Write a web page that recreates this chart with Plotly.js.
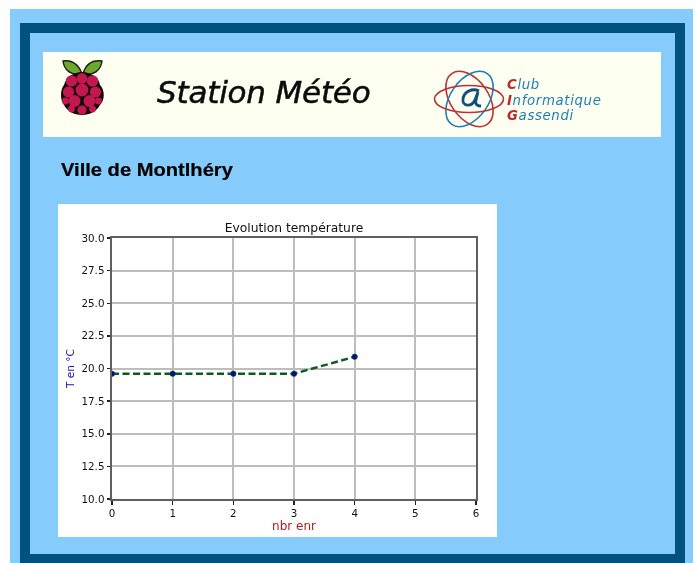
<!DOCTYPE html>
<html><head><meta charset="utf-8">
<script src="https://cdn.plot.ly/plotly-3.0.1.min.js"></script>
<style>
html,body{margin:0;padding:0;background:#fff;width:697px;height:563px;overflow:hidden}
#page{position:absolute;left:0;top:0;width:697px;height:563px;filter:blur(.5px)}
.a{position:absolute;box-sizing:border-box}
#bg{left:10px;top:9px;width:683px;height:554px;background:#85ccfc}
#frame{left:20px;top:23px;width:665px;height:541px;border:10px solid #01527f}
#banner{left:43px;top:52px;width:618px;height:85px;background:#fdfff0}
#st{left:157px;top:74px;font:italic 400 31px "DejaVu Sans",sans-serif;letter-spacing:-.2px;color:#0b0b0b;white-space:nowrap;-webkit-text-stroke:.5px #0b0b0b}
#ville{left:61px;top:160px;font:bold 17.5px "Liberation Sans",Arial,sans-serif;color:#000;white-space:nowrap;-webkit-text-stroke:.2px #000;transform:scaleX(1.15);transform-origin:left center}
.club{left:507px;height:15px;font:italic 13.3px/15px "DejaVu Sans",sans-serif;letter-spacing:.65px;color:#1f7fb5;white-space:nowrap}
.club b{color:#c0282c;font-weight:700}
#chart{left:58px;top:204px;width:439px;height:333px;background:#fff}
</style></head><body><div id="page">
<div class="a" id="bg"></div><div class="a" id="frame"></div><div class="a" id="banner"></div>
<svg class="a" style="left:55px;top:55px" width="56" height="66" viewBox="55 55 56 66">
 <path d="M82 74C78 63 71 60 63 61C64 70 71 76 82 74Z" fill="#6ea92f" stroke="#1c1c10" stroke-width="1.4"/>
 <path d="M83 74C86 63 94 60 102 61C101 70 94 76 83 74Z" fill="#6ea92f" stroke="#1c1c10" stroke-width="1.4"/>
 <path d="M82 72C90 72 99 77 100 85C105 90 105 100 100 105C97 111 90 115 82 115C74 115 67 111 64 105C60 100 60 90 64 85C66 77 74 72 82 72Z" fill="#14060a"/>
 <g fill="#c2174f">
  <circle cx="82" cy="78.5" r="5.4"/><circle cx="71.5" cy="81" r="5.8"/><circle cx="92.5" cy="81" r="5.8"/>
  <circle cx="82" cy="90" r="6.4"/><circle cx="68.5" cy="92" r="5.6"/><circle cx="95.5" cy="92" r="5.6"/>
  <circle cx="74.5" cy="101" r="6"/><circle cx="89.5" cy="101" r="6"/><circle cx="65.5" cy="101" r="3.4"/><circle cx="98.5" cy="101" r="3.4"/>
  <circle cx="82" cy="110" r="4.6"/><circle cx="71.5" cy="109" r="3.4"/><circle cx="92.5" cy="109" r="3.4"/>
 </g>
</svg>
<div class="a" id="st">Station Météo</div>
<svg class="a" style="left:430px;top:68px" width="78" height="62" viewBox="430 68 78 62">
 <g fill="none" stroke-width="1.6">
  <ellipse cx="469.5" cy="99" rx="31" ry="19" stroke="#bd2f35" transform="rotate(55 469.5 99)"/>
  <ellipse cx="469.5" cy="99" rx="31" ry="19" stroke="#1f7db8" transform="rotate(-55 469.5 99)"/>
  <ellipse cx="469" cy="99" rx="34.5" ry="13.5" stroke="#bd2f35"/>
  <path d="M479 91C473 88 464 91 463 99C462 106 471 108 475 100L478 92C476 100 473 106 481 106" stroke="#0f4f7d" stroke-width="2.8"/>
 </g>
</svg>
<div class="a club" style="top:77px"><b>C</b>lub</div>
<div class="a club" style="top:92.6px"><b>I</b>nformatique</div>
<div class="a club" style="top:108.2px"><b>G</b>assendi</div>
<div class="a" id="ville">Ville de Montlhéry</div>
<div class="a" id="chart"></div>
</div>
<script>
const xValues = [0, 1, 2, 3, 4];
const temperatures = [19.6, 19.6, 19.6, 19.6, 20.9];
const xTicks = [0, 1, 2, 3, 4, 5, 6];
const yTicks = [10, 12.5, 15, 17.5, 20, 22.5, 25, 27.5, 30];
const yTickLabels = ["10.0","12.5","15.0","17.5","20.0","22.5","25.0","27.5","30.0"];
const titleText = "Evolution température";
const xLabel = "nbr enr";
const yLabel = "T en °C";
const font = "DejaVu Sans, sans-serif";
const axisCommon = {
  showgrid: true, gridcolor: "#bdbdbd", gridwidth: 2, zeroline: false,
  showline: true, linecolor: "#5f5f5f", linewidth: 2, mirror: true,
  ticks: "outside", ticklen: 3.5, tickwidth: 1.5, tickcolor: "#222",
  tickfont: {family: font, size: 10.3, color: "#111"}
};
Plotly.newPlot("chart", [{
  x: xValues, y: temperatures, mode: "lines+markers", type: "scatter",
  line: {color: "#0b5a1f", width: 2.4, dash: "7px,3.5px"},
  marker: {color: "#00108a", size: 5.5, line: {color: "#0b5a1f", width: .6}}
}], {
  width: 439, height: 333, showlegend: false,
  paper_bgcolor: "#fff", plot_bgcolor: "#fff",
  margin: {l: 53.5, r: 21, t: 34, b: 38},
  title: {text: titleText, x: 236/439, xanchor: "center", y: 1-24/333, yanchor: "middle", font: {family: font, size: 12.3, color: "#111"}},
  xaxis: Object.assign({}, axisCommon, {range: [0, 6], tickmode: "array", tickvals: xTicks,
    title: {text: xLabel, standoff: 1, font: {family: font, size: 12, color: "#b01c24"}}}),
  yaxis: Object.assign({}, axisCommon, {range: [10, 30], tickmode: "array", tickvals: yTicks, ticktext: yTickLabels,
    title: {text: yLabel, standoff: 5, font: {family: font, size: 10.5, color: "#1414b4"}}})
}, {displayModeBar: false, staticPlot: true});
</script>
</body></html>
